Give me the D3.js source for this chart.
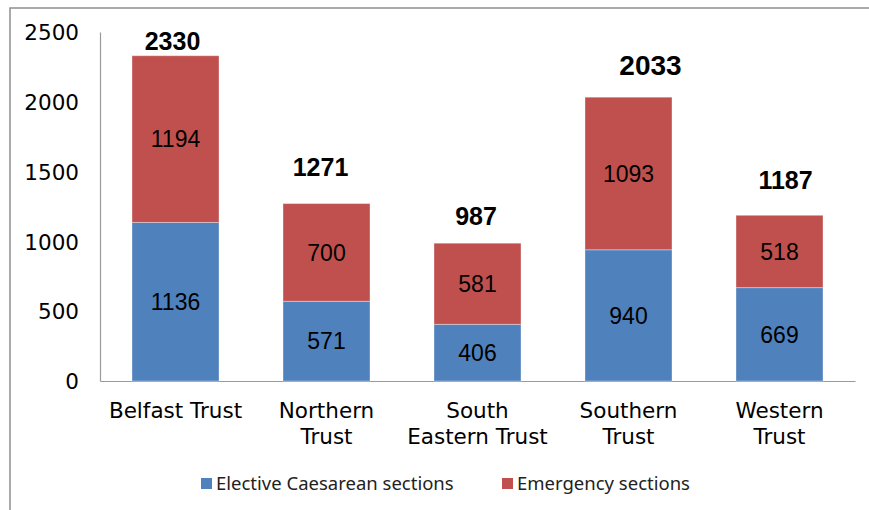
<!DOCTYPE html>
<html>
<head>
<meta charset="utf-8">
<script src="https://cdn.jsdelivr.net/npm/d3@7/dist/d3.min.js"></script>
<style>
  body { margin: 0; background: #fff; }
  svg { display: block; }
</style>
</head>
<body>
<div id="chart"></div>
<script>
'use strict';

// data
var trusts = [
    ['Belfast Trust'],
    ['Northern', 'Trust'],
    ['South', 'Eastern Trust'],
    ['Southern', 'Trust'],
    ['Western', 'Trust']
];
var elective = [1136, 571, 406, 940, 669];
var emergency = [1194, 700, 581, 1093, 518];
var totals = [2330, 1271, 987, 2033, 1187];
var yTicks = [0, 500, 1000, 1500, 2000, 2500];
var seriesNames = ['Elective Caesarean sections', 'Emergency sections'];

// hand placement of the total labels (px), as in the original
var totalLift = [15, 37, 27, 32, 35];
var totalShift = [-3, -6, -1.5, 22, 6];
var totalSize = [25, 25, 25, 28, 25];

var colors = ['#4f81bd', '#c0504d'];

var svg = d3.select('#chart')
    .append('svg')
        .attr('width', 869)
        .attr('height', 510);

// outer frame (runs off right and bottom edges)
svg.append('rect')
    .attr('x', 10)
    .attr('y', 8)
    .attr('width', 900)
    .attr('height', 600)
    .attr('fill', 'none')
    .attr('stroke', '#8f8f8f')
    .attr('stroke-width', 1.5);

var keys = trusts.map(function(d) { return d.join(' '); });

var xScale = d3.scaleBand()
    .domain(keys)
    .range([100, 855])
    .paddingInner(0.424)
    .paddingOuter(0.212);

var yScale = d3.scaleLinear()
    .domain([0, 2500])
    .range([381, 32]);

var yAxis = d3.axisLeft(yScale)
    .tickValues(yTicks)
    .tickSize(0)
    .tickPadding(21)
    .tickFormat(d3.format('d'));

var gy = svg.append('g')
    .attr('transform', 'translate(100,0)')
    .call(yAxis);
gy.select('.domain').attr('stroke', '#9a9a9a').attr('stroke-width', 1.2);
gy.selectAll('text')
    .attr('font-family', 'DejaVu Sans, Verdana, sans-serif')
    .attr('font-size', 21.5)
    .attr('fill', '#000')
    .attr('dy', '0.36em');

var xAxis = d3.axisBottom(xScale)
    .tickSize(0)
    .tickSizeOuter(0)
    .tickFormat('');

var gx = svg.append('g')
    .attr('transform', 'translate(0,381)')
    .call(xAxis);
gx.select('.domain').attr('stroke', '#9a9a9a').attr('stroke-width', 1.2);

// two-line category labels
gx.selectAll('.tick').each(function(d, i) {
    var t = d3.select(this).append('text')
        .attr('font-family', 'DejaVu Sans, Verdana, sans-serif')
        .attr('font-size', 21.5)
        .attr('fill', '#000')
        .attr('text-anchor', 'middle');
    trusts[i].forEach(function(line, j) {
        t.append('tspan')
            .attr('x', 0)
            .attr('y', 30 + j * 26 + 7)
            .text(line);
    });
});

// stacked bars
var rows = keys.map(function(k, i) {
    return {key: k, elective: elective[i], emergency: emergency[i]};
});
var stack = d3.stack().keys(['elective', 'emergency'])(rows);

var layer = svg.selectAll('.layer')
    .data(stack)
    .enter().append('g')
        .attr('class', 'layer')
        .attr('fill', function(d, i) { return colors[i]; });

layer.selectAll('rect')
    .data(function(d) { return d; })
    .enter().append('rect')
        .attr('x', function(d) { return xScale(d.data.key); })
        .attr('y', function(d) { return yScale(d[1]); })
        .attr('width', xScale.bandwidth())
        .attr('height', function(d) { return yScale(d[0]) - yScale(d[1]); })
        .attr('stroke', '#ffffff')
        .attr('stroke-opacity', 0.35)
        .attr('stroke-width', 1);

layer.selectAll('text')
    .data(function(d) { return d; })
    .enter().append('text')
        .attr('x', function(d) { return xScale(d.data.key) + xScale.bandwidth() / 2; })
        .attr('y', function(d) { return (yScale(d[0]) + yScale(d[1])) / 2; })
        .attr('dy', '0.36em')
        .attr('text-anchor', 'middle')
        .attr('font-family', 'Liberation Sans, Arial, sans-serif')
        .attr('font-size', 23)
        .attr('fill', '#000')
        .text(function(d) { return d[1] - d[0]; });

// totals above bars
svg.selectAll('.total')
    .data(totals)
    .enter().append('text')
        .attr('class', 'total')
        .attr('x', function(d, i) { return xScale(keys[i]) + xScale.bandwidth() / 2 + totalShift[i]; })
        .attr('y', function(d, i) { return yScale(d) - totalLift[i]; })
        .attr('dy', '0.36em')
        .attr('text-anchor', 'middle')
        .attr('font-family', 'Liberation Sans, Arial, sans-serif')
        .attr('font-weight', 'bold')
        .attr('font-size', function(d, i) { return totalSize[i]; })
        .attr('fill', '#000')
        .text(function(d) { return d; });

// legend
var legendX = [201, 502];
var legend = svg.selectAll('.legend')
    .data(seriesNames)
    .enter().append('g')
        .attr('class', 'legend')
        .attr('transform', function(d, i) { return 'translate(' + legendX[i] + ',478)'; });

legend.append('rect')
    .attr('width', 11)
    .attr('height', 11)
    .attr('fill', function(d, i) { return colors[i]; });

legend.append('text')
    .attr('x', 15)
    .attr('y', 5.5)
    .attr('dy', '0.36em')
    .attr('font-family', 'Noto Sans, sans-serif')
    .attr('font-size', 18.5)
    .attr('fill', '#222')
    .text(function(d) { return d; });
</script>
</body>
</html>
